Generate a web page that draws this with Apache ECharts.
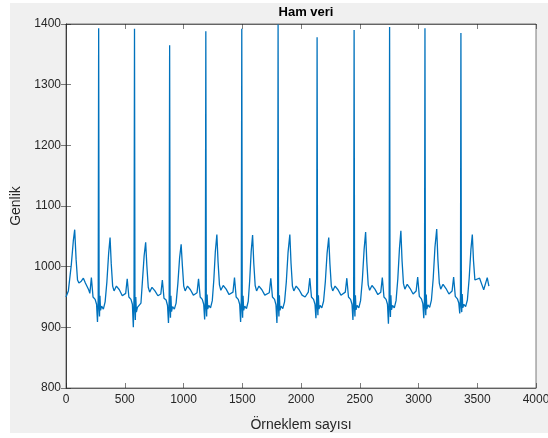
<!DOCTYPE html>
<html>
<head>
<meta charset="utf-8">
<script src="https://cdn.jsdelivr.net/npm/echarts@6/dist/echarts.min.js"></script>
<style>
html,body{margin:0;padding:0;background:#ffffff;}
#bg{position:absolute;left:10px;top:3px;width:538px;height:430px;background:#f0f0f0;}
#chart{position:absolute;left:0;top:0;width:548px;height:438px;}
</style>
</head>
<body>
<div id="bg"></div>
<div id="chart"></div>
<script>
// Chart text
const titleText = 'Ham veri';
const xAxisName = 'Örneklem sayısı';
const yAxisName = 'Genlik';
// Axis ranges / ticks
const xTicks = [0, 500, 1000, 1500, 2000, 2500, 3000, 3500, 4000];
const yTicks = [800, 900, 1000, 1100, 1200, 1300, 1400];

// Signal vertices: sample index and amplitude
const sampleIndex = [
  0, 20, 45, 62, 74, 86, 98, 110, 130, 148, 165, 193,
  203, 216, 230, 248, 260, 268, 274, 278,
  282, 285, 289, 294, 303, 318, 333, 348, 363, 375, 385, 397, 409, 429, 454, 479,
  508, 521, 535, 553, 565, 573, 579, 583,
  587, 590, 594, 599, 608, 623, 638, 650, 665, 678, 688, 700, 712, 732, 757, 782,
  807, 820, 834, 852, 864, 872, 878, 882,
  886, 889, 893, 898, 907, 922, 937, 952, 967, 980, 990, 1002, 1014, 1034, 1059, 1084,
  1115, 1128, 1142, 1160, 1172, 1180, 1186, 1190,
  1194, 1197, 1201, 1206, 1215, 1230, 1245, 1258, 1271, 1284, 1294, 1306, 1318, 1338, 1363, 1388,
  1421, 1434, 1448, 1466, 1478, 1486, 1492, 1496,
  1500, 1503, 1507, 1512, 1521, 1536, 1551, 1563, 1576, 1588, 1598, 1610, 1622, 1642, 1667, 1692,
  1730, 1743, 1757, 1775, 1787, 1795, 1801, 1805,
  1809, 1812, 1816, 1821, 1830, 1845, 1860, 1875, 1890, 1905, 1915, 1927, 1939, 1959, 1984, 2009, 2035,
  2062, 2075, 2089, 2107, 2119, 2127, 2133, 2137,
  2141, 2144, 2148, 2153, 2162, 2177, 2192, 2207, 2222, 2236, 2246, 2258, 2270, 2290, 2315, 2340,
  2377, 2390, 2404, 2422, 2434, 2442, 2448, 2452,
  2456, 2459, 2463, 2468, 2477, 2492, 2507, 2522, 2537, 2550, 2560, 2572, 2584, 2604, 2629, 2654,
  2679, 2692, 2706, 2724, 2736, 2744, 2750, 2754,
  2758, 2761, 2765, 2770, 2779, 2794, 2809, 2824, 2838, 2850, 2860, 2872, 2884, 2904, 2929, 2954,
  2980, 2993, 3007, 3025, 3037, 3045, 3051, 3055,
  3059, 3062, 3066, 3071, 3080, 3095, 3110, 3125, 3140, 3155, 3165, 3177, 3189, 3209, 3234, 3259,
  3286, 3299, 3313, 3331, 3343, 3351, 3357, 3361,
  3365, 3368, 3372, 3377, 3386, 3401, 3416, 3431, 3446, 3458, 3468, 3480, 3495, 3520, 3540, 3555, 3585, 3599
];
const amplitude = [
  950, 960, 1003, 1042, 1061, 1012, 978, 973, 976, 981, 973, 962,
  956, 982, 950, 946, 938, 909, 948, 1393,
  932, 918, 952, 928, 935, 930, 942, 975, 1022, 1048, 1005, 968, 960, 968, 962, 952,
  956, 980, 950, 946, 938, 900, 948, 1392,
  930, 912, 950, 925, 933, 930, 940, 975, 1018, 1040, 1002, 966, 958, 966, 960, 952,
  955, 978, 948, 945, 936, 907, 946, 1365,
  930, 916, 952, 926, 934, 930, 940, 972, 1015, 1037, 1003, 968, 960, 968, 962, 953,
  957, 980, 950, 946, 938, 913, 948, 1388,
  932, 918, 954, 930, 936, 932, 944, 978, 1025, 1053, 1008, 970, 961, 969, 963, 954,
  958, 982, 950, 946, 938, 909, 948, 1392,
  932, 916, 952, 928, 935, 931, 943, 976, 1025, 1052, 1006, 969, 960, 968, 962, 953,
  957, 981, 950, 946, 937, 907, 948, 1399,
  932, 918, 953, 928, 935, 931, 942, 975, 1024, 1053, 1006, 968, 960, 968, 962, 953, 950,
  958, 981, 950, 946, 938, 915, 948, 1378,
  932, 920, 953, 930, 936, 932, 943, 975, 1022, 1048, 1005, 968, 960, 968, 962, 953,
  958, 981, 950, 946, 938, 912, 948, 1390,
  932, 918, 953, 929, 936, 932, 944, 978, 1028, 1057, 1008, 970, 961, 969, 963, 954,
  958, 982, 950, 946, 938, 906, 948, 1395,
  932, 917, 953, 929, 936, 932, 944, 980, 1030, 1059, 1010, 972, 963, 971, 964, 955,
  960, 983, 951, 947, 939, 915, 948, 1393,
  933, 920, 954, 930, 937, 933, 945, 980, 1032, 1062, 1012, 973, 963, 971, 964, 955,
  960, 983, 951, 947, 940, 923, 950, 1385,
  934, 925, 955, 932, 938, 934, 945, 980, 1028, 1053, 1010, 978, 976, 981, 970, 962, 982, 968
];

const seriesData = sampleIndex.map((s, i) => [s, amplitude[i]]);

const axisColor = '#262626';
const fontFam = 'Liberation Sans, Arial, sans-serif';
const plainNum = (v) => String(v);

const chart = echarts.init(document.getElementById('chart'), null, {renderer: 'canvas'});
chart.setOption({
  animation: false,
  backgroundColor: 'transparent',
  title: {
    text: titleText,
    left: 301, top: 1, textAlign: 'center',
    textStyle: {fontSize: 13, fontWeight: 'bold', color: '#000', fontFamily: fontFam}
  },
  grid: {left: 66, right: 12, top: 24, bottom: 50, containLabel: false, outerBoundsMode: 'none',
         show: true, backgroundColor: '#ffffff', borderColor: axisColor, borderWidth: 0.6},
  xAxis: [{
    type: 'value', min: xTicks[0], max: xTicks[xTicks.length - 1], interval: 500,
    position: 'bottom',
    name: xAxisName, nameLocation: 'middle', nameGap: 30,
    nameTextStyle: {fontSize: 14, color: '#262626', fontFamily: fontFam},
    axisLine: {show: true, lineStyle: {color: axisColor, width: 0.6}},
    axisTick: {show: true, inside: true, length: 5, lineStyle: {color: axisColor, width: 0.6}},
    axisLabel: {margin: 6, color: '#262626', fontSize: 12, fontFamily: fontFam, formatter: plainNum},
    splitLine: {show: false}
  }, {
    type: 'value', min: xTicks[0], max: xTicks[xTicks.length - 1], interval: 500,
    position: 'top',
    axisLine: {show: true, lineStyle: {color: axisColor, width: 0.6}},
    axisTick: {show: true, inside: true, length: 5, lineStyle: {color: axisColor, width: 0.6}},
    axisLabel: {show: false}, splitLine: {show: false}
  }],
  yAxis: [{
    type: 'value', min: yTicks[0], max: yTicks[yTicks.length - 1], interval: 100,
    position: 'left',
    name: yAxisName, nameLocation: 'middle', nameGap: 43,
    nameTextStyle: {fontSize: 14, color: '#262626', fontFamily: fontFam},
    axisLine: {show: true, lineStyle: {color: axisColor, width: 0.6}},
    axisTick: {show: true, inside: true, length: 5, lineStyle: {color: axisColor, width: 0.6}},
    axisLabel: {margin: 5, color: '#262626', fontSize: 12, fontFamily: fontFam, formatter: plainNum},
    splitLine: {show: false}
  }, {
    type: 'value', min: yTicks[0], max: yTicks[yTicks.length - 1], interval: 100,
    position: 'right',
    axisLine: {show: true, lineStyle: {color: axisColor, width: 0.6}},
    axisTick: {show: true, inside: true, length: 5, lineStyle: {color: axisColor, width: 0.6}},
    axisLabel: {show: false}, splitLine: {show: false}
  }],
  series: [{
    type: 'line',
    xAxisIndex: 0, yAxisIndex: 0,
    data: seriesData,
    showSymbol: false,
    sampling: null,
    lineStyle: {color: '#0072BD', width: 1.3},
    itemStyle: {color: '#0072BD'}
  }]
});
</script>
</body>
</html>
